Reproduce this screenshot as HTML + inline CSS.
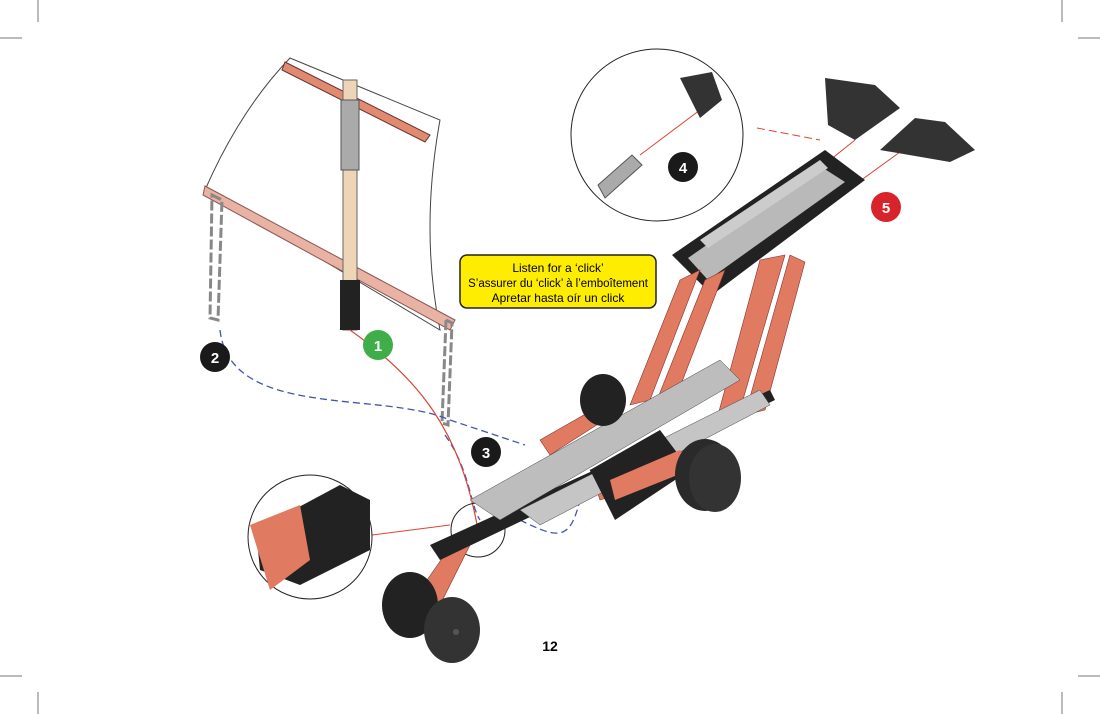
<!DOCTYPE html>
<html><head><style>
html,body{margin:0;padding:0;background:#fff;}
svg{display:block;}
text{font-family:"Liberation Sans",sans-serif;}
</style></head><body>
<svg width="1100" height="714" viewBox="0 0 1100 714" xmlns="http://www.w3.org/2000/svg">
<g stroke="#777" stroke-width="1">
<line x1="38" y1="0" x2="38" y2="22"/><line x1="0" y1="38" x2="22" y2="38"/>
<line x1="1062" y1="0" x2="1062" y2="22"/><line x1="1078" y1="38" x2="1100" y2="38"/>
<line x1="38" y1="692" x2="38" y2="714"/><line x1="0" y1="676" x2="22" y2="676"/>
<line x1="1062" y1="692" x2="1062" y2="714"/><line x1="1078" y1="676" x2="1100" y2="676"/>
</g>
<path d="M290 58 Q240 110 205 190 L440 330 Q420 230 440 120 Z" fill="none" stroke="#444" stroke-width="1"/>
<path d="M285 62 L430 135 L425 142 L282 70 Z" fill="#e08a70" stroke="#633" stroke-width="1"/>
<path d="M205 186 L455 320 L450 330 L203 195 Z" fill="#e9b3a3" stroke="#855" stroke-width="1"/>
<rect x="343" y="80" width="14" height="250" fill="#eed5b8" stroke="#666"/>
<rect x="341" y="100" width="18" height="70" fill="#aaa" stroke="#555"/>
<rect x="340" y="280" width="20" height="50" fill="#222"/>
<path d="M212 195 L222 200 L218 320 L210 318 Z" fill="none" stroke="#888" stroke-width="3" stroke-dasharray="10 3"/>
<path d="M446 320 L452 323 L448 425 L442 423 Z" fill="none" stroke="#888" stroke-width="3" stroke-dasharray="10 3"/>
<path d="M220 330 C230 420 380 390 450 420 C480 430 510 440 525 445" fill="none" stroke="#4455aa" stroke-width="1.3" stroke-dasharray="7 4"/>
<path d="M445 435 C470 470 470 505 480 520 M520 520 C560 540 570 540 580 500" fill="none" stroke="#4455aa" stroke-width="1.3" stroke-dasharray="7 4"/>
<path d="M350 330 C420 380 460 430 478 530" fill="none" stroke="#dd4433" stroke-width="1.2"/>
<line x1="372" y1="535" x2="450" y2="525" stroke="#dd4433" stroke-width="1"/>
<line x1="640" y1="155" x2="700" y2="110" stroke="#dd4433" stroke-width="1"/>
<line x1="805" y1="180" x2="855" y2="140" stroke="#dd4433" stroke-width="1"/>
<line x1="820" y1="210" x2="900" y2="152" stroke="#dd4433" stroke-width="1"/>
<line x1="757" y1="128" x2="820" y2="140" stroke="#dd4433" stroke-width="1" stroke-dasharray="8 4"/>
<circle cx="657" cy="135" r="86" fill="none" stroke="#222" stroke-width="1"/>
<path d="M680 78 L712 72 L722 100 L700 118 Z" fill="#333"/>
<path d="M598 185 L632 155 L642 165 L605 198 Z" fill="#aaa" stroke="#555"/>
<circle cx="310" cy="537" r="62" fill="none" stroke="#222" stroke-width="1"/>
<path d="M256 530 L340 485 L370 500 L370 550 L300 585 L260 570 Z" fill="#222"/>
<path d="M250 525 L300 505 L310 560 L270 590 Z" fill="#e07a60"/>
<circle cx="478" cy="530" r="27" fill="none" stroke="#222" stroke-width="1"/>
<path d="M825 78 L875 85 L900 108 L855 140 L828 125 Z" fill="#333"/>
<path d="M880 150 L915 118 L945 122 L975 150 L950 162 Z" fill="#333"/>
<path d="M672 255 L825 150 L865 180 L712 295 Z" fill="#222"/>
<path d="M688 258 L820 166 L845 182 L708 280 Z" fill="#b9b9b9"/>
<path d="M700 240 L820 160 L828 168 L708 248 Z" fill="#ccc"/>
<g fill="#e07a60" stroke="#833" stroke-width="0.6">
<path d="M680 280 L700 270 L650 400 L630 405 Z"/>
<path d="M705 280 L725 270 L675 400 L655 405 Z"/>
<path d="M760 260 L785 255 L740 410 L718 415 Z"/>
<path d="M790 255 L805 262 L765 410 L745 415 Z"/>
<path d="M540 440 L610 400 L620 410 L550 455 Z"/>
<path d="M590 470 L680 440 L690 470 L600 500 Z"/>
<path d="M420 590 L455 540 L470 545 L440 605 Z"/>
</g>
<path d="M430 545 L770 390 L775 400 L440 560 Z" fill="#222"/>
<path d="M470 500 L720 360 L740 380 L500 520 Z" fill="#bdbdbd" stroke="#444" stroke-width="0.5"/>
<path d="M520 510 L760 390 L770 405 L540 525 Z" fill="#c5c5c5" stroke="#444" stroke-width="0.5"/>
<path d="M590 470 L660 430 L690 470 L615 520 Z" fill="#222"/>
<path d="M610 480 L680 450 L690 470 L615 500 Z" fill="#e07a60"/>
<ellipse cx="603" cy="400" rx="23" ry="26" fill="#222"/>
<ellipse cx="705" cy="475" rx="30" ry="36" fill="#2a2a2a"/>
<ellipse cx="715" cy="478" rx="26" ry="34" fill="#333"/>
<ellipse cx="410" cy="605" rx="28" ry="33" fill="#222"/>
<ellipse cx="452" cy="630" rx="28" ry="33" fill="#333"/>
<circle cx="456" cy="632" r="3" fill="#555"/>
<rect x="460" y="255" width="196" height="53" rx="7" fill="#ffed00" stroke="#222" stroke-width="1.5"/>
<text x="558" y="272" font-size="12" text-anchor="middle">Listen for a ‘click’</text>
<text x="558" y="287" font-size="11.5" text-anchor="middle">S’assurer du ‘click’ à l’emboîtement</text>
<text x="558" y="302" font-size="12" text-anchor="middle">Apretar hasta oír un click</text>
<circle cx="378" cy="345" r="15" fill="#3fae49"/><text x="378" y="351" font-size="15" font-weight="bold" fill="#fff" text-anchor="middle">1</text>
<circle cx="215" cy="357" r="15" fill="#1a1a1a"/><text x="215" y="363" font-size="15" font-weight="bold" fill="#fff" text-anchor="middle">2</text>
<circle cx="486" cy="452" r="15" fill="#1a1a1a"/><text x="486" y="458" font-size="15" font-weight="bold" fill="#fff" text-anchor="middle">3</text>
<circle cx="683" cy="167" r="15" fill="#1a1a1a"/><text x="683" y="173" font-size="15" font-weight="bold" fill="#fff" text-anchor="middle">4</text>
<circle cx="886" cy="207" r="15" fill="#d8232a"/><text x="886" y="213" font-size="15" font-weight="bold" fill="#fff" text-anchor="middle">5</text>
<text x="550" y="651" font-size="14" font-weight="bold" text-anchor="middle">12</text>
</svg>
</body></html>
